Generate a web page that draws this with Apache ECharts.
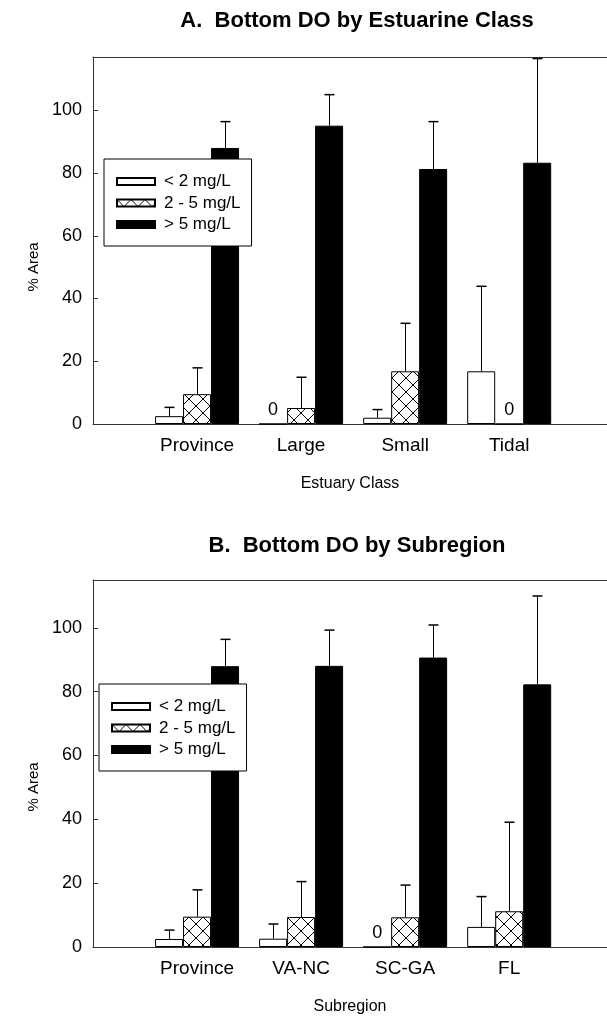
<!DOCTYPE html>
<html>
<head>
<meta charset="utf-8">
<script src="https://cdn.jsdelivr.net/npm/echarts@6/dist/echarts.min.js"></script>
<style>
html,body{margin:0;padding:0;background:#fff;}
#chart{width:607px;height:1021px;}
</style>
</head>
<body>
<div id="chart"></div>
<script>
// ---- data ----
const titleA = 'A.  Bottom DO by Estuarine Class';
const titleB = 'B.  Bottom DO by Subregion';
const classCategories = ['Province', 'Large', 'Small', 'Tidal'];
const subregionCategories = ['Province', 'VA-NC', 'SC-GA', 'FL'];
const seriesNames = ['< 2 mg/L', '2 - 5 mg/L', '> 5 mg/L'];
const yTicks = [0, 20, 40, 60, 80, 100];

// A: by estuarine class (% area) and upper error (SD)
const classLow = [2.5, 0, 2.0, 16.8];
const classMid = [9.5, 5.1, 16.8, 0];
const classHigh = [88.0, 95.1, 81.3, 83.3];
const classLowErr = [2.8, 0, 2.6, 27.1];
const classMidErr = [8.4, 9.8, 15.3, 0];
const classHighErr = [8.4, 9.9, 15.1, 33.2];

// B: by subregion
const subLow = [2.5, 2.6, 0, 6.3];
const subMid = [9.5, 9.4, 9.3, 11.2];
const subHigh = [88.0, 88.1, 90.7, 82.3];
const subLowErr = [2.8, 4.6, 0, 9.5];
const subMidErr = [8.4, 11.1, 10.1, 27.9];
const subHighErr = [8.4, 11.2, 10.2, 27.7];

// ---- styles ----
const FONT = '"Liberation Sans", Arial, sans-serif';
const BAR_W = 28;
const CAP = 5;
const AXIS_COLOR = '#333';

function hatchPattern() {
  const c = document.createElement('canvas');
  const s = 14;
  c.width = s; c.height = s;
  const g = c.getContext('2d');
  g.fillStyle = '#fff';
  g.fillRect(0, 0, s, s);
  g.strokeStyle = '#000';
  g.lineWidth = 1;
  g.beginPath();
  g.moveTo(0, 0); g.lineTo(s, s);
  g.moveTo(s, 0); g.lineTo(0, s);
  g.stroke();
  return c;
}
const hatch = { image: hatchPattern(), repeat: 'repeat' };
const fills = ['#ffffff', hatch, '#000000'];

const chart = echarts.init(document.getElementById('chart'), null, { renderer: 'canvas' });

const grids = [
  { left: 93, top: 57, height: 367, right: 0 },
  { left: 93, top: 580, height: 367, right: 0 }
];
const yMax = [117, 115];
const xMin = 0, xMax = 4.94;

function xAxesFor(gi, cats, name) {
  return [
    {
      type: 'value', gridIndex: gi, min: xMin, max: xMax, interval: 1,
      position: 'bottom',
      name: name, nameLocation: 'middle', nameGap: 52,
      nameTextStyle: { fontFamily: FONT, fontSize: 16, color: '#000' },
      axisLine: { show: true, lineStyle: { color: AXIS_COLOR, width: 1 } },
      axisTick: { show: false },
      splitLine: { show: false },
      axisLabel: {
        margin: 12, fontFamily: FONT, fontSize: 19, color: '#000',
        showMaxLabel: false, showMinLabel: false,
        formatter: function (v) {
          const i = Math.round(v);
          return (Math.abs(v - i) < 1e-6 && i >= 1 && i <= cats.length) ? cats[i - 1] : '';
        }
      }
    },
    {
      type: 'value', gridIndex: gi, min: xMin, max: xMax, position: 'top',
      axisLine: { show: true, lineStyle: { color: AXIS_COLOR, width: 1 } },
      axisTick: { show: false }, axisLabel: { show: false }, splitLine: { show: false }
    }
  ];
}

function yAxisFor(gi, max, shift) {
  return {
    type: 'value', gridIndex: gi, min: 0, max: max, interval: 20,
    name: '% Area', nameLocation: 'middle', nameGap: 49, nameRotate: 90,
    nameTextStyle: { fontFamily: FONT, fontSize: 15, color: '#000', padding: [0, shift, 0, 0] },
    axisLine: { show: true, lineStyle: { color: AXIS_COLOR, width: 1 } },
    axisTick: { show: true, inside: true, length: 5, lineStyle: { color: AXIS_COLOR } },
    splitLine: { show: false },
    axisLabel: {
      margin: 11, fontFamily: FONT, fontSize: 18, color: '#000', showMaxLabel: false,
      formatter: function (v) { return yTicks.indexOf(v) >= 0 ? String(v) : ''; }
    }
  };
}

function barSeries(gi, name, k, vals) {
  return {
    type: 'bar', name: name, xAxisIndex: gi * 2, yAxisIndex: gi,
    barWidth: BAR_W, barGap: '0%',
    data: vals.map(function (v, i) { return [i + 1, v]; }),
    itemStyle: { color: fills[k], borderColor: '#000', borderWidth: 1 },
    label: {
      show: true, position: 'top', distance: 4, fontFamily: FONT, fontSize: 18, color: '#000',
      formatter: function (p) { return p.value[1] === 0 ? '0' : ''; }
    },
    emphasis: { disabled: true },
    z: 2
  };
}

function errSeries(gi, vals, errs) {
  const data = [];
  for (let k = 0; k < 3; k++) {
    for (let i = 0; i < vals[k].length; i++) {
      data.push([i + 1, vals[k][i], errs[k][i], k]);
    }
  }
  return {
    type: 'custom', xAxisIndex: gi * 2, yAxisIndex: gi, z: 5, silent: true,
    data: data,
    renderItem: function (params, api) {
      const x = api.value(0), v = api.value(1), e = api.value(2), k = api.value(3);
      if (!(e > 0)) return null;
      const base = api.coord([x, v]);
      const top = api.coord([x, v + e]);
      const cx = Math.round(base[0] + (k - 1) * BAR_W) + 0.5;
      return {
        type: 'group',
        children: [
          { type: 'line', shape: { x1: cx, y1: base[1], x2: cx, y2: top[1] }, style: { stroke: '#000', lineWidth: 1 } },
          { type: 'line', shape: { x1: cx - CAP, y1: top[1], x2: cx + CAP, y2: top[1] }, style: { stroke: '#000', lineWidth: 1.5 } }
        ]
      };
    }
  };
}

const legendCommon = {
  orient: 'vertical', icon: 'rect', itemWidth: 38, itemHeight: 7, itemGap: 4.5,
  backgroundColor: '#fff', borderColor: '#000', borderWidth: 1, borderRadius: 0,
  padding: [14, 11, 13, 12],
  textStyle: { fontFamily: FONT, fontSize: 17, color: '#000', lineHeight: 17, padding: [0, 0, 0, 4] },
  selectedMode: false,
  data: seriesNames
};

const option = {
  animation: false,
  backgroundColor: '#fff',
  title: [
    { text: titleA, left: 357, top: 10, textAlign: 'center', padding: 0,
      textStyle: { fontFamily: FONT, fontSize: 22, fontWeight: 'bold', color: '#000' } },
    { text: titleB, left: 357, top: 535, textAlign: 'center', padding: 0,
      textStyle: { fontFamily: FONT, fontSize: 22, fontWeight: 'bold', color: '#000' } }
  ],
  legend: [
    Object.assign({}, legendCommon, { left: 104, top: 159 }),
    Object.assign({}, legendCommon, { left: 99, top: 684 })
  ],
  grid: grids,
  xAxis: xAxesFor(0, classCategories, 'Estuary Class').concat(xAxesFor(1, subregionCategories, 'Subregion')),
  yAxis: [yAxisFor(0, yMax[0], 53), yAxisFor(1, yMax[1], 47)],
  series: [
    barSeries(0, seriesNames[0], 0, classLow),
    barSeries(0, seriesNames[1], 1, classMid),
    barSeries(0, seriesNames[2], 2, classHigh),
    errSeries(0, [classLow, classMid, classHigh], [classLowErr, classMidErr, classHighErr]),
    barSeries(1, seriesNames[0], 0, subLow),
    barSeries(1, seriesNames[1], 1, subMid),
    barSeries(1, seriesNames[2], 2, subHigh),
    errSeries(1, [subLow, subMid, subHigh], [subLowErr, subMidErr, subHighErr])
  ]
};
chart.setOption(option);
</script>
</body>
</html>
